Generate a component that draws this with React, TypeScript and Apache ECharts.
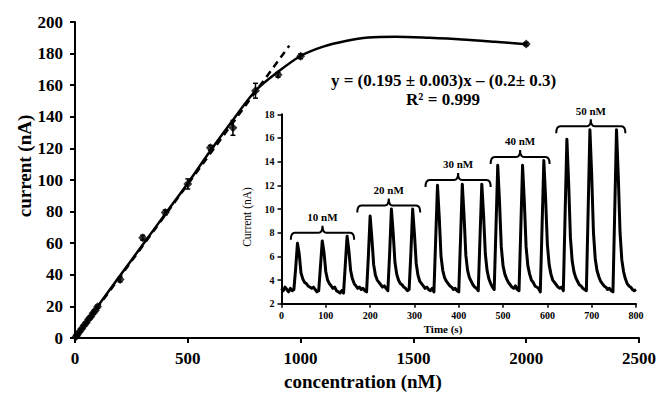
import React, { useEffect, useRef } from "react";
import * as echarts from "echarts";

// ---------- main plot data ----------
const concentrations = [5, 10, 20, 30, 40, 50, 60, 70, 80, 90, 100, 200, 300, 400, 500, 600, 700, 800, 900, 1000, 2000];
const currents = [1.0, 2.0, 3.9, 5.8, 7.9, 9.6, 11.8, 13.5, 15.6, 17.4, 19.8, 37, 63.5, 79.5, 97.5, 120.4, 133, 156.5, 166.6, 178.3, 186];
const currentErrors = [0.3, 0.3, 0.4, 0.4, 0.5, 0.5, 0.6, 0.6, 0.7, 0.8, 1, 1.5, 1.5, 1.5, 3.2, 1.5, 4.7, 4.7, 1.5, 1.5, 1];

// smooth solid curve
const curveX = [0, 100, 200, 300, 400, 500, 600, 700, 800, 900, 1000, 1100, 1200, 1300, 1420, 1570, 1715, 1860, 2000];
const curveY = [0, 20, 39.5, 59, 78.5, 98, 118.5, 138, 156.5, 168.5, 178.5, 184.4, 188, 190.2, 190.7, 190, 189, 187.5, 185.9];

// linear fit (dashed)
const fitSlope = 0.195;
const fitIntercept = -0.2;
const fitRange = [0, 950];

const mainXTicks = { min: 0, max: 2500, interval: 500 };
const mainYTicks = { min: 0, max: 200, interval: 20 };

// ---------- inset data (amperometric trace) ----------
const traceStart = 0;
const traceStep = 4; // seconds between samples
const traceValues = [
  3.3, 3.1, 3.4, 3.2, 3.0, 3.3, 3.1, 3.2, 5.0, 7.1,
  6.2, 4.6, 4.1, 3.8, 3.7, 3.5, 3.4, 3.3, 3.4, 3.2,
  3.0, 3.1, 5.2, 7.3, 6.3, 4.7, 4.0, 3.7, 3.5, 3.3,
  3.4, 3.1, 3.0, 2.9, 3.1, 2.9, 5.3, 7.7, 6.5, 4.8,
  4.1, 3.7, 3.5, 3.3, 3.4, 3.2, 3.3, 3.1, 3.0, 6.0,
  9.4, 7.5, 5.3, 4.4, 4.0, 3.8, 3.6, 3.4, 3.5, 3.3,
  3.1, 6.2, 10.0, 8.0, 5.5, 4.5, 4.0, 3.7, 3.6, 3.4,
  3.3, 3.1, 3.2, 6.3, 10.0, 7.9, 5.4, 4.4, 3.9, 3.7,
  3.5, 3.3, 3.4, 3.2, 3.1, 3.3, 3.0, 7.5, 12.0, 9.3,
  6.0, 4.8, 4.2, 3.9, 3.7, 3.5, 3.4, 3.2, 3.3, 3.1,
  3.0, 7.4, 12.1, 9.4, 6.1, 4.8, 4.2, 3.9, 3.6, 3.4,
  3.3, 3.1, 7.6, 12.1, 9.5, 6.2, 4.8, 4.1, 3.7, 3.4,
  3.2, 8.4, 13.7, 10.6, 6.8, 5.2, 4.5, 4.1, 3.8, 3.6,
  3.4, 3.3, 3.5, 3.2, 3.1, 8.3, 13.7, 10.6, 6.8, 5.2,
  4.5, 4.0, 3.8, 3.5, 3.4, 3.3, 3.0, 8.5, 14.1, 10.9,
  7.0, 5.3, 4.5, 4.0, 3.8, 3.6, 3.4, 3.3, 3.4, 3.1,
  9.5, 15.9, 12.2, 7.6, 5.6, 4.7, 4.2, 3.9, 3.6, 3.5,
  3.3, 3.2, 3.1, 9.9, 16.7, 12.9, 8.0, 5.8, 4.8, 4.3,
  3.9, 3.7, 3.5, 3.4, 3.2, 3.3, 3.1, 3.0, 9.8, 16.7,
  12.8, 8.0, 5.7, 4.7, 4.1, 3.7, 3.5, 3.4, 3.2, 3.1,
  3.2,
];

const bracketLabels = ["10 nM", "20 nM", "30 nM", "40 nM", "50 nM"];
const bracketStart = [21, 171, 325, 472, 620];
const bracketEnd = [164, 313, 472, 605, 776];
const bracketLevel = [8.0, 10.3, 12.45, 14.4, 17.0];

const insetXTicks = { min: 0, max: 800, interval: 100 };
const insetYTicks = { min: 2, max: 18, interval: 2 };

const equationText = "y = (0.195 ± 0.003)x – (0.2± 0.3)";
const r2Text = "R² = 0.999";

const FONT = "'Liberation Serif', 'Times New Roman', serif";

export default function App() {
  const ref = useRef<HTMLDivElement>(null);

  useEffect(() => {
    if (!ref.current) return;
    const chart = echarts.init(ref.current, undefined, { renderer: "svg" });

    const axisLineStyle = { color: "#000", width: 2 };
    const plain = (v: number) => String(v);
    const mainLabel = { color: "#000", fontFamily: FONT, fontWeight: "bold", fontSize: 17, formatter: plain };
    const insetLabel = { color: "#000", fontFamily: FONT, fontWeight: "bold", fontSize: 10, formatter: plain };

    const scatterData = concentrations.map((c, i) => [c, currents[i]]);
    const errorData = concentrations.map((c, i) => [c, currents[i] - currentErrors[i], currents[i] + currentErrors[i]]);
    const curveData = curveX.map((x, i) => [x, curveY[i]]);
    const fitData = fitRange.map((x) => [x, fitSlope * x + fitIntercept]);
    const traceData = traceValues.map((v, i) => [traceStart + i * traceStep, v]);
    const bracketData = bracketLabels.map((_, i) => [bracketStart[i], bracketEnd[i], bracketLevel[i]]);

    const option: any = {
      animation: false,
      backgroundColor: "#fff",
      grid: [
        { left: 75, right: 18, top: 22, bottom: 60 },
        { left: 281.5, right: 23, top: 114.3, bottom: 94.3 },
      ],
      xAxis: [
        {
          gridIndex: 0,
          type: "value",
          ...mainXTicks,
          axisLine: { lineStyle: axisLineStyle },
          axisTick: { length: 5, lineStyle: { color: "#000", width: 2 } },
          axisLabel: { ...mainLabel, margin: 12 },
          splitLine: { show: false },
        },
        {
          gridIndex: 1,
          type: "value",
          ...insetXTicks,
          axisLine: { lineStyle: axisLineStyle },
          axisTick: { length: 4, lineStyle: { color: "#000", width: 1.5 } },
          axisLabel: { ...insetLabel, margin: 7 },
          splitLine: { show: false },
        },
      ],
      yAxis: [
        {
          gridIndex: 0,
          type: "value",
          ...mainYTicks,
          axisLine: { show: true, lineStyle: axisLineStyle },
          axisTick: { show: true, length: 5, lineStyle: { color: "#000", width: 2 } },
          axisLabel: { ...mainLabel, margin: 12 },
          splitLine: { show: false },
        },
        {
          gridIndex: 1,
          type: "value",
          ...insetYTicks,
          axisLine: { show: true, lineStyle: axisLineStyle },
          axisTick: { show: true, length: 4, lineStyle: { color: "#000", width: 1.5 } },
          axisLabel: { ...insetLabel, margin: 7 },
          splitLine: { show: false },
        },
      ],
      graphic: [
        {
          type: "text",
          x: 24,
          y: 166,
          rotation: Math.PI / 2,
          style: { text: "current (nA)", fill: "#000", fontFamily: FONT, fontWeight: "bold", fontSize: 19, align: "center", verticalAlign: "middle" },
        },
        {
          type: "text",
          x: 363,
          y: 381,
          style: { text: "concentration (nM)", fill: "#000", fontFamily: FONT, fontWeight: "bold", fontSize: 19, align: "center", verticalAlign: "middle" },
        },
        {
          type: "text",
          x: 247,
          y: 217,
          rotation: Math.PI / 2,
          style: { text: "Current (nA)", fill: "#000", fontFamily: FONT, fontSize: 11.5, align: "center", verticalAlign: "middle" },
        },
        {
          type: "text",
          x: 443,
          y: 329,
          style: { text: "Time (s)", fill: "#000", fontFamily: FONT, fontWeight: "bold", fontSize: 11, align: "center", verticalAlign: "middle" },
        },
        {
          type: "text",
          x: 443.5,
          y: 80,
          style: { text: equationText, fill: "#000", fontFamily: FONT, fontWeight: "bold", fontSize: 17, align: "center", verticalAlign: "middle" },
        },
        {
          type: "text",
          x: 443,
          y: 99.5,
          style: { text: r2Text, fill: "#000", fontFamily: FONT, fontWeight: "bold", fontSize: 17, align: "center", verticalAlign: "middle" },
        },
      ],
      series: [
        {
          name: "fit",
          type: "line",
          xAxisIndex: 0,
          yAxisIndex: 0,
          data: fitData,
          symbol: "none",
          lineStyle: { color: "#000", width: 2.5, type: [7, 5] },
          z: 2,
        },
        {
          name: "curve",
          type: "line",
          xAxisIndex: 0,
          yAxisIndex: 0,
          data: curveData,
          smooth: 0.3,
          symbol: "none",
          lineStyle: { color: "#000", width: 2.5 },
          z: 3,
        },
        {
          name: "error",
          type: "custom",
          xAxisIndex: 0,
          yAxisIndex: 0,
          data: errorData,
          encode: { x: 0, y: [1, 2] },
          renderItem: (params: any, api: any) => {
            const lo = api.coord([api.value(0), api.value(1)]);
            const hi = api.coord([api.value(0), api.value(2)]);
            const w = 2.5;
            const st = { stroke: "#000", lineWidth: 1.5 };
            return {
              type: "group",
              children: [
                { type: "line", shape: { x1: lo[0], y1: lo[1], x2: hi[0], y2: hi[1] }, style: st },
                { type: "line", shape: { x1: lo[0] - w, y1: lo[1], x2: lo[0] + w, y2: lo[1] }, style: st },
                { type: "line", shape: { x1: hi[0] - w, y1: hi[1], x2: hi[0] + w, y2: hi[1] }, style: st },
              ],
            };
          },
          z: 4,
        },
        {
          name: "data",
          type: "scatter",
          xAxisIndex: 0,
          yAxisIndex: 0,
          data: scatterData,
          symbol: "diamond",
          symbolSize: 9,
          itemStyle: { color: "#000" },
          z: 5,
        },
        {
          name: "trace",
          type: "line",
          xAxisIndex: 1,
          yAxisIndex: 1,
          data: traceData,
          symbol: "none",
          lineStyle: { color: "#000", width: 3, join: "round" },
          z: 3,
        },
        {
          name: "brackets",
          type: "custom",
          xAxisIndex: 1,
          yAxisIndex: 1,
          data: bracketData,
          encode: { x: [0, 1], y: 2 },
          clip: false,
          renderItem: (params: any, api: any) => {
            const a = api.coord([api.value(0), api.value(2)]);
            const b = api.coord([api.value(1), api.value(2)]);
            const y = a[1];
            const x1 = a[0];
            const x2 = b[0];
            const xm = (x1 + x2) / 2;
            const d = 7;
            const r = 4;
            const path =
              `M ${x1} ${y + d} Q ${x1} ${y} ${x1 + r} ${y} L ${xm - r} ${y} Q ${xm} ${y} ${xm} ${y - d} ` +
              `Q ${xm} ${y} ${xm + r} ${y} L ${x2 - r} ${y} Q ${x2} ${y} ${x2} ${y + d}`;
            return {
              type: "group",
              children: [
                { type: "path", shape: { pathData: path }, style: { fill: "none", stroke: "#000", lineWidth: 2 } },
                {
                  type: "text",
                  x: xm,
                  y: y - 15.5,
                  style: {
                    text: bracketLabels[params.dataIndex],
                    fill: "#000",
                    fontFamily: FONT,
                    fontWeight: "bold",
                    fontSize: 11,
                    align: "center",
                    verticalAlign: "middle",
                  },
                },
              ],
            };
          },
          z: 6,
        },
      ],
    };

    chart.setOption(option);
    return () => chart.dispose();
  }, []);

  return <div ref={ref} style={{ position: "absolute", left: 0, top: 0, width: 659, height: 398 }} />;
}
